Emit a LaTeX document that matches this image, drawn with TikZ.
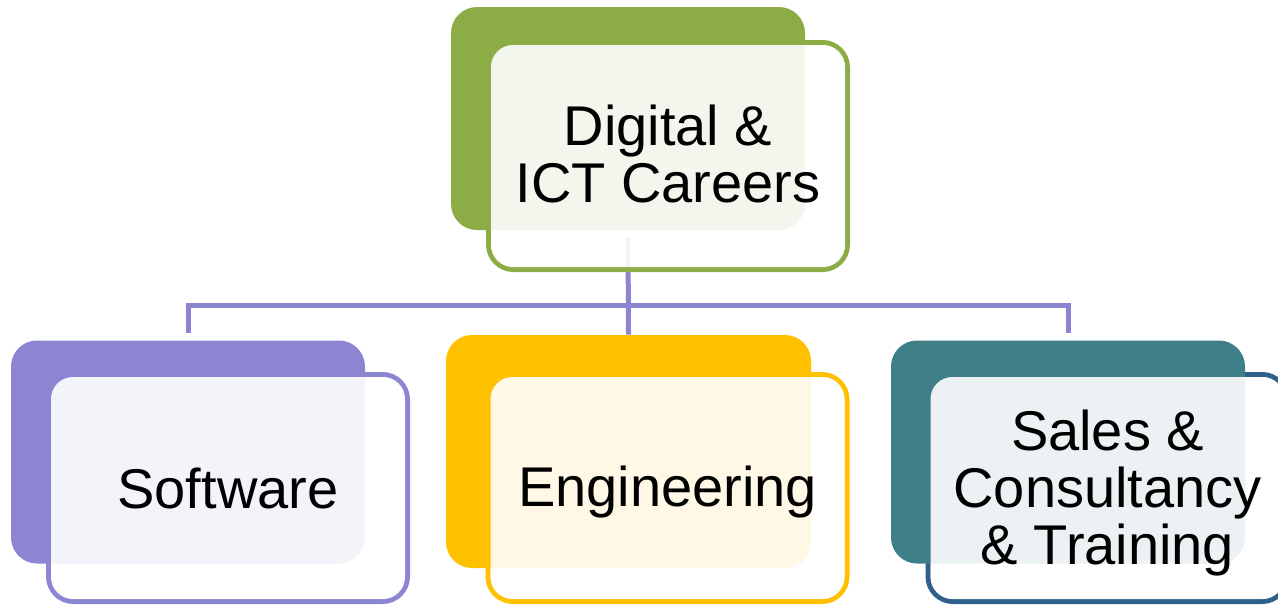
\documentclass[tikz,border=0pt]{standalone}
\usepackage{fontspec}
\setmainfont{Liberation Sans}
\usetikzlibrary{backgrounds}

\definecolor{olivegreen}{HTML}{8CAC46}
\definecolor{lavender}{HTML}{8B85D2}
\definecolor{amber}{HTML}{FFC000}
\definecolor{tealback}{HTML}{3F7F88}
\definecolor{steelblue}{HTML}{2F5F8A}

\newcommand\cardstrut{\rule[-4.25pt]{0pt}{28.5pt}}

\tikzset{
  backbox/.style={fill=#1, rounded corners=13pt, minimum width=177pt,
    minimum height=111.5pt, inner sep=0pt},
  frontbox/.style={draw=#1, line width=2.5pt, rounded corners=12.5pt,
    minimum width=179.5pt, minimum height=113.5pt, inner sep=0pt},
  veil/.style={fill=white, fill opacity=0.9, rounded corners=11pt,
    minimum width=177pt, minimum height=111pt, inner sep=0pt},
  label/.style={inner sep=0pt, align=center,
    font=\fontsize{28pt}{28.5pt}\selectfont,
    execute at begin node=\cardstrut, execute at end node=\cardstrut},
  conn/.style={draw=lavender, line width=2.5pt}
}

\begin{document}
\begin{tikzpicture}[x=0.5pt, y=-0.5pt]
\useasboundingbox (0,0) rectangle (1278,605);

% front outlines first, the back cards cover them
\node[frontbox=olivegreen] (topfront) at (668,156) {};
\node[frontbox=lavender] (swfront) at (228,488) {};
\node[frontbox=amber] (engfront) at (667.5,488) {};
\node[frontbox=steelblue] (scfront) at (1107.5,488) {};

% back cards
\node[backbox=olivegreen] (topback) at (628,118.5) {};
\node[backbox=lavender] (swback) at (188,452) {};
\node[backbox=amber, minimum width=182.5pt, minimum height=116.5pt] (engback) at (628.5,451.5) {};
\node[backbox=tealback] (scback) at (1068,452) {};

% pale veil over the overlap
\node[veil] (topveil) at (topfront.center) {};
\node[veil] (swveil) at (swfront.center) {};
\node[veil] (engveil) at (engfront.center) {};
\node[veil] (scveil) at (scfront.center) {};

% labels
\node[label] (toplabel) at ([yshift=-1pt]topfront.center) {Digital \&\\ICT Careers};
\node[label] (swlabel) at (swfront.center) {Software};
\node[label] (englabel) at (engfront.center) {Engineering};
\node[label] (sclabel) at ([yshift=-2.75pt]scfront.center) {Sales \&\\Consultancy\\\& Training};

% connectors
\coordinate (bus) at (628,305);
\begin{scope}[on background layer]
    \draw[conn] ([yshift=-3.5pt]topback.south) -- (engback.north);
    \draw[conn] ([yshift=3.5pt]swback.north) |- (bus) -| ([yshift=3.5pt]scback.north);
\end{scope}
\end{tikzpicture}
\end{document}
